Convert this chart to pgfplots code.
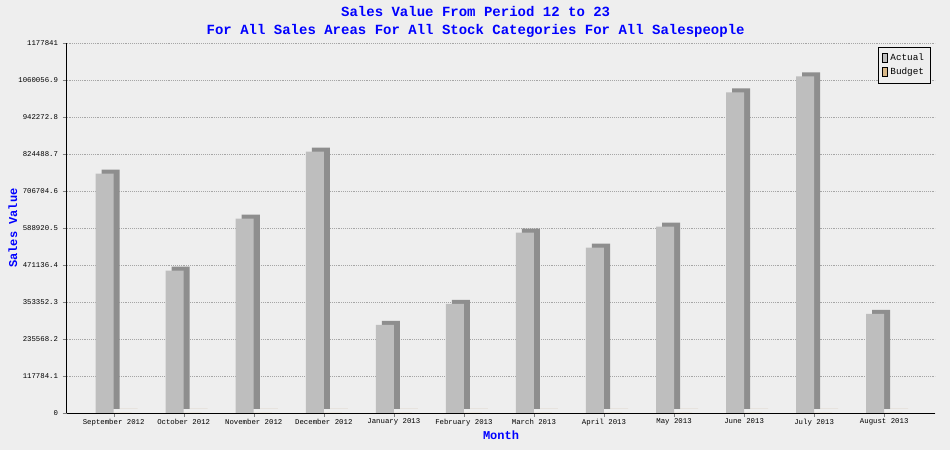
\documentclass[border=0pt]{standalone}
\usepackage{pgfplots}
\pgfplotsset{compat=1.18}
\usepackage{fontspec}
\setmonofont{Liberation Mono}
\definecolor{bg}{HTML}{EEEEEE}
\definecolor{act}{HTML}{BEBEBE}
\definecolor{actd}{HTML}{8E8E8E}
\definecolor{bud}{HTML}{D8B888}
\definecolor{budd}{HTML}{B89A70}
\definecolor{ttl}{HTML}{0000FF}
\begin{document}
\begin{tikzpicture}
\fill[bg] (-50pt,-28pt) rectangle (662pt,309.5pt);
\begin{axis}[
  scale only axis, width=651pt, height=277pt,
  at={(0,0)}, anchor=south west,
  xmin=-0.67, xmax=11.73, ymin=0, ymax=1177841,
  scaled y ticks=false,
  axis background/.style={fill=bg},
  font=\ttfamily,
  xtick={0,...,11},
  xticklabels={September 2012,October 2012,November 2012,December 2012,January 2013,February 2013,March 2013,April 2013,May 2013,June 2013,July 2013,August 2013},
  xticklabel style={font=\ttfamily\fontsize{5.5}{6}\selectfont, yshift=2pt},
  ytick={0,117784.1,235568.2,353352.3,471136.4,588920.5,706704.6,824488.7,942272.8,1060056.9,1177841},
  yticklabels={0,117784.1,235568.2,353352.3,471136.4,588920.5,706704.6,824488.7,942272.8,1060056.9,1177841},
  yticklabel style={font=\ttfamily\fontsize{5.5}{6}\selectfont},
  tick align=outside, major tick length=3pt,
  ymajorgrids, grid style={densely dotted, gray!70},
  axis x line*=bottom, axis y line*=left,
  axis line style={black},
  xlabel={\textbf{Month}}, ylabel={\textbf{Sales Value}},
  xlabel style={font=\ttfamily\small, text=ttl, yshift=3pt},
  ylabel style={font=\ttfamily\small, text=ttl, yshift=-6pt},
  title style={font=\ttfamily\bfseries\fontsize{10.5}{13}\selectfont, text=ttl, align=center, yshift=-5pt, xshift=-19pt},
  title={Sales Value From Period 12 to 23\\For All Sales Areas For All Stock Categories For All Salespeople},
  legend style={at={(0.995,0.99)}, anchor=north east, font=\ttfamily\fontsize{7}{9}\selectfont, fill=bg, draw=black, legend cell align=left, inner sep=3pt},
  legend image code/.code={\draw[#1, draw=black] (0pt,-3pt) rectangle (4pt,4pt);},
]
% shadows
\addplot[ybar, bar width=13.5pt, bar shift=-6.75pt, fill=actd, draw=none, xshift=4.5pt, yshift=3pt, forget plot] coordinates {(0,762880) (1,453250) (2,619240) (3,833100) (4,280900) (5,347900) (6,574560) (7,526680) (8,593700) (9,1021430) (10,1072500) (11,316000)};
\addplot[ybar, bar width=13.5pt, bar shift=6.75pt, fill=budd, draw=none, xshift=4.5pt, yshift=3pt, forget plot] coordinates {(0,1) (1,1) (2,1) (3,1) (4,1) (5,1) (6,1) (7,1) (8,1) (9,1) (10,1) (11,1)};
% fronts
\addplot[ybar, bar width=13.5pt, bar shift=-6.75pt, fill=act, draw=none] coordinates {(0,762880) (1,453250) (2,619240) (3,833100) (4,280900) (5,347900) (6,574560) (7,526680) (8,593700) (9,1021430) (10,1072500) (11,316000)};
\addlegendentry{Actual}
\addplot[ybar, bar width=13.5pt, bar shift=6.75pt, fill=bud, draw=none] coordinates {(0,1) (1,1) (2,1) (3,1) (4,1) (5,1) (6,1) (7,1) (8,1) (9,1) (10,1) (11,1)};
\addlegendentry{Budget}
\end{axis}
\end{tikzpicture}
\end{document}
